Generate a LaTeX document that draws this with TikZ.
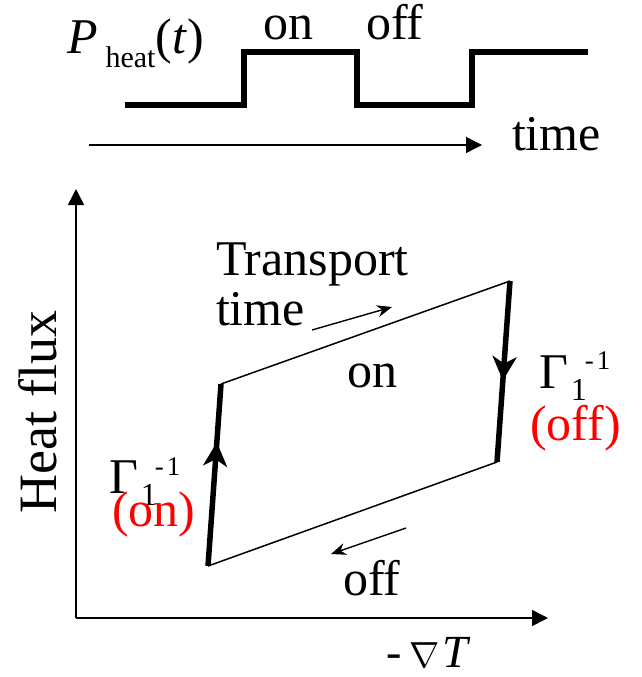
\documentclass[tikz,border=0pt]{standalone}
\usepackage{fontspec}
\usepackage{graphicx}
\setmainfont{Liberation Serif}
\usetikzlibrary{arrows.meta,decorations.markings}
\begin{document}
\begin{tikzpicture}[x=1pt,y=-1pt,
  txt/.style={inner sep=0pt,outer sep=0pt,anchor=base west,font=\fontsize{50}{60}\selectfont},
  thinline/.style={line width=1.5pt},
  thickline/.style={line width=5.5pt},
  pulseline/.style={line width=5.5pt,line join=miter},
  axisarrow/.style={line width=1.5pt,-{Triangle[length=16pt,width=16pt]}},
  smallarrow/.style={line width=1.4pt,-{Stealth[length=15pt,width=12pt]}},
  midarrow/.style={postaction={decorate},decoration={markings,
      mark=at position #1 with {\arrow{Stealth[length=24pt,width=24pt,inset=7pt]}}}}
  ]
\useasboundingbox (0,0) rectangle (642,677);

% ---- pulse train ----
\coordinate (p0) at (125,105);
\coordinate (p1) at (244,105);
\coordinate (p2) at (244,52);
\coordinate (p3) at (357,52);
\coordinate (p4) at (357,105);
\coordinate (p5) at (472,105);
\coordinate (p6) at (472,52);
\coordinate (p7) at (588,52);
\draw[pulseline] (p0) -- (p1) -- (p2) -- (p3) -- (p4) -- (p5) -- (p6) -- (p7);

\node[txt] (pheat) at (67,53) {\textit{P}\kern8pt\raisebox{-14pt}{\fontsize{30}{30}\selectfont heat}(\textit{t})};
\node[txt] (ontop) at (263,40) {on};
\node[txt] (offtop) at (366,40) {off};

\coordinate (t0) at (89,145);
\coordinate (t1) at (482,145);
\draw[axisarrow,line width=1.3pt] (t0) -- (t1);
\node[txt] (timelabel) at (512,150) {time};

% ---- axes ----
\coordinate (O) at (76,618);
\coordinate (ytip) at (76,189);
\coordinate (xtip) at (548,618);
\draw[axisarrow] (O) -- (ytip);
\draw[axisarrow] (O) -- (xtip);
\node[font=\fontsize{54}{60}\selectfont,rotate=90,inner sep=0pt] (hf) at (38,412) {Heat flux};
\node[txt,font=\fontsize{46}{46}\selectfont] (grad) at (386,667) {-\kern8pt\scalebox{1.75}{\fontsize{20}{20}\selectfont$\nabla$}\kern3pt\textit{T}};

% ---- cycle ----
\coordinate (BL) at (208,566);
\coordinate (TL) at (221,384);
\coordinate (TR) at (510,281);
\coordinate (BR) at (497,462);
\draw[thinline] (TL) -- (TR);
\draw[thinline] (BL) -- (BR);
\draw[thickline,midarrow=0.68] (BL) -- (TL);
\draw[thickline,midarrow=0.55] (TR) -- (BR);

\node[txt] (tr1) at (216,275) {Transport};
\node[txt] (tr2) at (216,325) {time};
\coordinate (ta0) at (312,330);
\coordinate (ta1) at (392,307);
\draw[smallarrow] (ta0) -- (ta1);
\node[txt] (onmid) at (347,387) {on};

\coordinate (oa0) at (406,528);
\coordinate (oa1) at (331,554);
\draw[smallarrow] (oa0) -- (oa1);
\node[txt] (offbot) at (343,595) {off};

\node[txt] (gl) at (109,493) {Γ\rlap{\kern3pt\raisebox{-12pt}{\fontsize{32}{32}\selectfont 1}}\kern17pt\raisebox{18pt}{\fontsize{27}{27}\selectfont -\kern3pt1}};
\node[txt,text=red] (onred) at (112,526) {(on)};
\node[txt] (gr) at (539,388) {Γ\rlap{\kern3pt\raisebox{-12pt}{\fontsize{32}{32}\selectfont 1}}\kern17pt\raisebox{19pt}{\fontsize{27}{27}\selectfont -\kern3pt1}};
\node[txt,text=red] (offred) at (530,440) {(off)};
\end{tikzpicture}
\end{document}
